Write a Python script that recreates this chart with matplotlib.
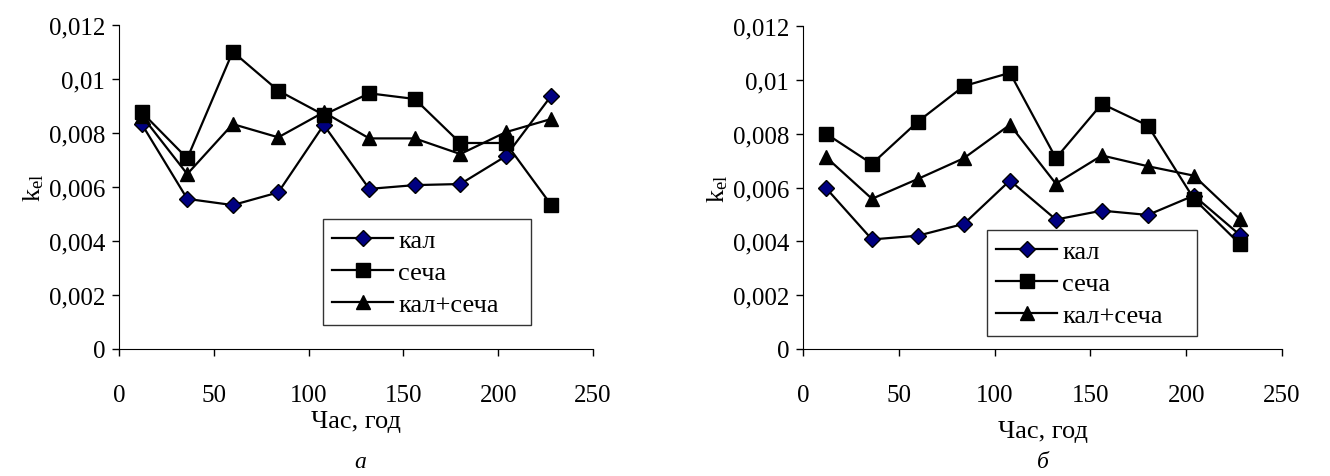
import numpy as np
import matplotlib
matplotlib.use('Agg')
import matplotlib.pyplot as plt
from matplotlib.ticker import FuncFormatter

plt.rcParams['font.family'] = ['Liberation Serif', 'DejaVu Serif']
plt.rcParams['mathtext.fontset'] = 'custom'
plt.rcParams['mathtext.rm'] = 'Liberation Serif'
plt.rcParams['mathtext.it'] = 'Liberation Serif:italic'

# time, hours
hours = [12, 36, 60, 84, 108, 132, 156, 180, 204, 228]

# panel a
kal_a = [0.00833, 0.00556, 0.00533, 0.0058, 0.0083, 0.00593, 0.00607, 0.00611, 0.00714, 0.00938]
secha_a = [0.00877, 0.00706, 0.01101, 0.00957, 0.00867, 0.00947, 0.00926, 0.00763, 0.00763, 0.00533]
both_a = [0.00864, 0.00648, 0.00833, 0.00784, 0.00877, 0.0078, 0.0078, 0.00722, 0.00803, 0.00852]

# panel b
kal_b = [0.00598, 0.00407, 0.00421, 0.00465, 0.00626, 0.00481, 0.00514, 0.00498, 0.0057, 0.00424]
secha_b = [0.008, 0.00688, 0.00845, 0.00977, 0.01026, 0.00709, 0.00911, 0.0083, 0.00558, 0.0039]
both_b = [0.00713, 0.00558, 0.00632, 0.00709, 0.00833, 0.00614, 0.00719, 0.00679, 0.00644, 0.00483]

labels = ['кал', 'сеча', 'кал+сеча']
yticks = [0, 0.002, 0.004, 0.006, 0.008, 0.01, 0.012]
xticks = [0, 50, 100, 150, 200, 250]

W, H = 1330, 477
fig = plt.figure(figsize=(W / 100, H / 100), dpi=100)


def comma(v, pos):
    return ('%g' % round(v, 4)).replace('.', ',')


def drawPanel(rect, kal, secha, both, legRect, xlabY, letter, letterX):
    ax = fig.add_axes(rect)
    ax.plot(hours, kal, color='black', lw=1.6, marker='D', ms=8,
            markerfacecolor='#000080', markeredgecolor='black', markeredgewidth=1, label=labels[0])
    ax.plot(hours, secha, color='black', lw=1.6, marker='s', ms=10,
            markerfacecolor='black', label=labels[1])
    ax.plot(hours, both, color='black', lw=1.6, marker='^', ms=10,
            markerfacecolor='black', label=labels[2])
    ax.set_xlim(0, 250)
    ax.set_ylim(0, 0.012)
    ax.set_xticks(xticks)
    ax.set_yticks(yticks)
    ax.yaxis.set_major_formatter(FuncFormatter(comma))
    for s in ['top', 'right']:
        ax.spines[s].set_visible(False)
    ax.tick_params(direction='out', length=5, width=1, labelsize=18)
    ax.tick_params(axis='x', pad=20)
    ax.tick_params(axis='y', pad=5)
    ax.set_ylabel(r'$\mathregular{k_{el}}$', fontsize=19, labelpad=2)
    leg = ax.legend(loc='lower left', bbox_to_anchor=legRect, mode='expand',
                    frameon=True, fancybox=False, edgecolor='black', fontsize=19,
                    handlelength=2.3, handletextpad=0.2, borderaxespad=0, labelspacing=0.32,
                    borderpad=0.35)
    leg._legend_box.align = 'left'
    leg.get_frame().set_linewidth(1)
    fig.text(rect[0] + rect[2] / 2, xlabY, 'Час, год', ha='center', va='center', fontsize=19)
    fig.text(letterX, 1 - 463 / H, letter, ha='center', va='center', fontsize=17, style='italic')
    return ax


def px(l, r, t, b):
    return [l / W, 1 - b / H, (r - l) / W, (b - t) / H]


def legBox(rect, l, r, t, b):
    # legend box in axes coords
    ax_l, ax_r = rect[0] * W, (rect[0] + rect[2]) * W
    ax_b, ax_t = (1 - rect[1]) * H, (1 - rect[1] - rect[3]) * H
    x0 = (l - ax_l) / (ax_r - ax_l)
    x1 = (r - ax_l) / (ax_r - ax_l)
    y0 = (ax_b - b) / (ax_b - ax_t)
    y1 = (ax_b - t) / (ax_b - ax_t)
    return (x0, y0, x1 - x0, y1 - y0)


rectA = px(119, 593, 26, 350)
rectB = px(803, 1282, 27, 350)
drawPanel(rectA, kal_a, secha_a, both_a, legBox(rectA, 323, 531, 214, 326),
          1 - 422 / H, 'а', 360 / W)
drawPanel(rectB, kal_b, secha_b, both_b, legBox(rectB, 987, 1197, 232, 337),
          1 - 432 / H, 'б', 1043 / W)

fig.savefig('out.png', dpi=100)
